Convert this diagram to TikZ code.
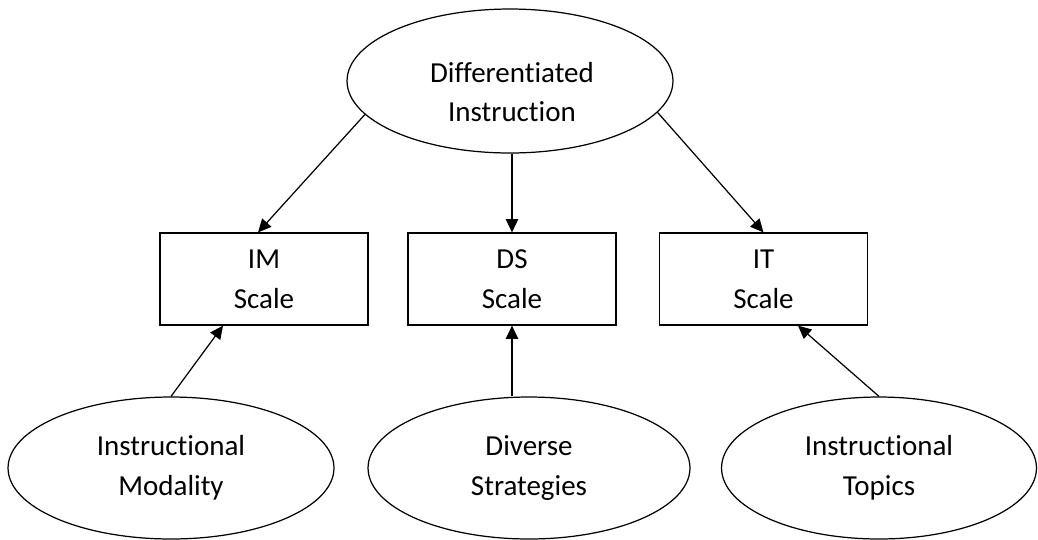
\documentclass[tikz,border=0pt]{standalone}
\usepackage{fontspec}
\setmainfont{Carlito}[Ligatures=NoCommon]
\usetikzlibrary{shapes.geometric,arrows.meta,calc}

\tikzset{
    oval/.style={draw,ellipse,line width=0.7pt,inner sep=0pt,minimum width=6.52cm,minimum height=2.84cm,align=center},
    box/.style={draw,rectangle,line width=0.7pt,inner sep=0pt,minimum width=4.16cm,minimum height=1.84cm,align=center},
    lbl/.style={align=center},
    arr/.style={line width=0.7pt,-{Triangle[length=7.5pt,width=7pt]}}
}

\begin{document}
\begin{tikzpicture}[x=0.02cm,y=-0.02cm,font=\fontsize{16.5}{22.7}\selectfont]
            \useasboundingbox (0,0) rectangle (1038,539);

            %top
            \node[oval,minimum height=2.88cm] (di) at (510,81) {};

            \node[lbl] (dit) at (512,92) {Differentiated\\Instruction};

            %scales
            \node[box] (im) at (264,279) {IM\\Scale};

            \node[box] (ds) at (512,279) {DS\\Scale};

            \node[box] (it) at (763.5,279) {IT\\Scale};

            %bottom
            \node[oval] (mod) at (171,468) {Instructional\\Modality};

            \node[oval,minimum width=6.44cm] (str) at (529,468) {Diverse\\Strategies};

            \node[oval,minimum width=6.3cm] (top) at (879,468) {Instructional\\Topics};

            %arrows
            \draw[arr] (di.193) -- ([xshift=-0.12cm]im.north);

            \draw[arr] (ds.north |- di.south) -- (ds.north);

            \draw[arr] (di.348) -- (it.north);

            \draw[arr] (mod.north) -- ([xshift=-0.82cm]im.south);

            \draw[arr] (ds.south |- str.north) -- (ds.south);

            \draw[arr] (top.north) -- ([xshift=0.69cm]it.south);
        \end{tikzpicture}
\end{document}
